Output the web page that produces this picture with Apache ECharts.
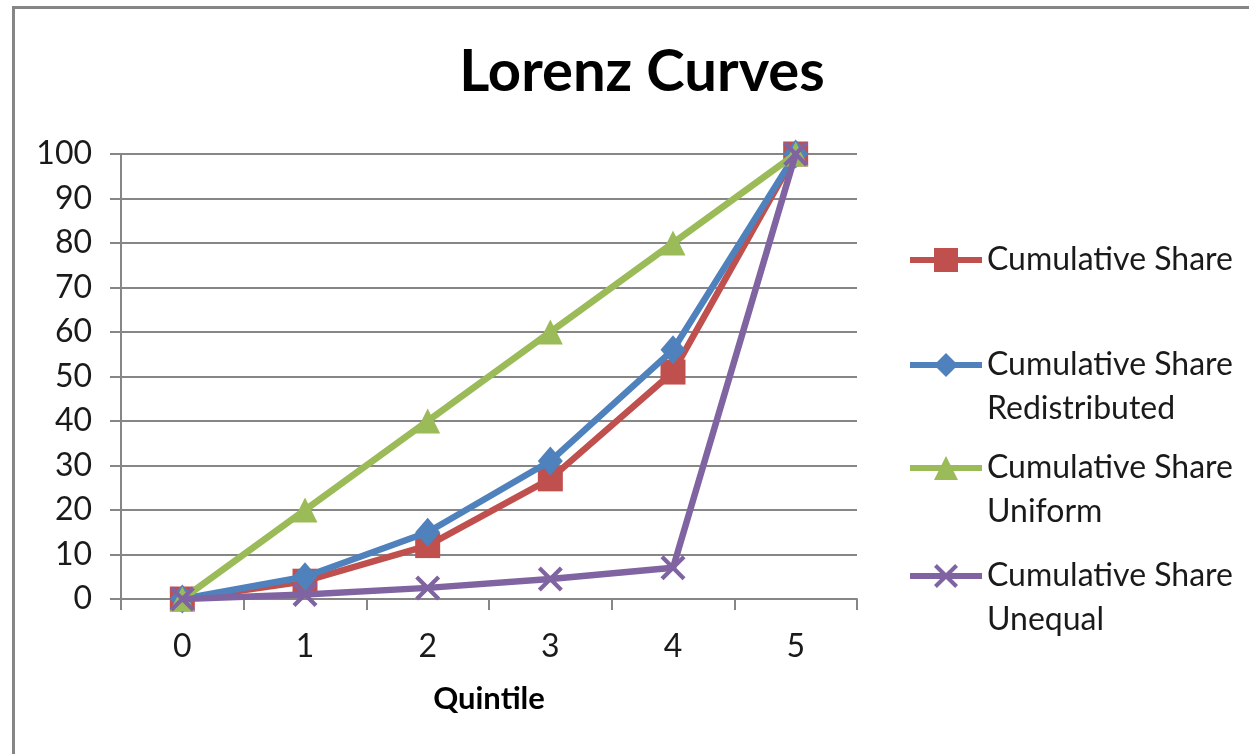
<!DOCTYPE html>
<html>
<head>
<meta charset="utf-8">
<script src="https://cdn.jsdelivr.net/npm/echarts@6/dist/echarts.min.js"></script>
<style>
html,body{margin:0;padding:0;background:#fff;}
#c{width:1249px;height:754px;}
</style>
</head>
<body>
<div id="c"></div>
<script>
const titleText = 'Lorenz Curves';
const xAxisName = 'Quintile';
const quintiles = ['0', '1', '2', '3', '4', '5'];
const yTicks = { min: 0, max: 100, interval: 10 };

const seriesNames = [
  'Cumulative Share',
  'Cumulative Share\nRedistributed',
  'Cumulative Share\nUniform',
  'Cumulative Share\nUnequal'
];
const cumulativeShare = [0, 4, 12, 27, 51, 100];
const cumulativeShareRedistributed = [0, 5, 15, 31, 56, 100];
const cumulativeShareUniform = [0, 20, 40, 60, 80, 100];
const cumulativeShareUnequal = [0, 1, 2.5, 4.5, 7, 100];

const colors = ['#C0504D', '#4F81BD', '#9BBB59', '#8064A2'];
const FONT = 'Lato';
const xPath = 'path://M0,1.2L1.2,0L5,3.8L8.8,0L10,1.2L6.2,5L10,8.8L8.8,10L5,6.2L1.2,10L0,8.8L3.8,5Z';

const chart = echarts.init(document.getElementById('c'), null, { renderer: 'canvas' });

function mkSeries(i, data, symbol, size) {
  return {
    name: seriesNames[i],
    type: 'line',
    data: data,
    symbol: symbol,
    symbolSize: size,
    showAllSymbol: true,
    lineStyle: { color: colors[i], width: 6.5 },
    itemStyle: { color: colors[i] },
    emphasis: { disabled: true },
    z: 2 + i
  };
}

function mkLegend(i, top, twoLine) {
  return {
    orient: 'vertical',
    left: 907,
    top: top,
    padding: 0,
    itemWidth: 72,
    itemHeight: 30,
    itemGap: 0,
    selectedMode: false,
    lineStyle: { width: 6 },
    data: [{ name: seriesNames[i] }],
    formatter: twoLine ? (n => ' \n' + n) : undefined,
    textStyle: {
      fontFamily: FONT,
      fontSize: 32,
      color: '#1a1a1a',
      lineHeight: 44
    }
  };
}

chart.setOption({
  animation: false,
  backgroundColor: '#ffffff',
  color: colors,
  title: {
    text: titleText,
    left: 637,
    textAlign: 'center',
    top: 38,
    textStyle: { fontFamily: FONT, fontSize: 58, fontWeight: 'bold', color: '#000' }
  },
  graphic: [{
    type: 'rect',
    shape: { x: 13.5, y: 7.5, width: 1300, height: 800 },
    style: { fill: 'none', stroke: '#868686', lineWidth: 3 },
    silent: true,
    z: -10
  }],
  legend: [
    mkLegend(0, 238, false),
    mkLegend(1, 299, true),
    mkLegend(2, 402, true),
    mkLegend(3, 510, true)
  ],
  grid: { left: 121, right: 392, top: 154, bottom: 155, containLabel: false },
  xAxis: {
    type: 'category',
    data: quintiles,
    boundaryGap: true,
    name: xAxisName,
    nameLocation: 'middle',
    nameGap: 84,
    nameTextStyle: { fontFamily: FONT, fontSize: 31, fontWeight: 'bold', color: '#000' },
    axisLine: { show: true, lineStyle: { color: '#868686', width: 2 } },
    axisTick: { show: true, length: 11, lineStyle: { color: '#868686', width: 2 } },
    axisLabel: { fontFamily: FONT, fontSize: 32, color: '#1a1a1a', margin: 32 },
    splitLine: { show: false }
  },
  yAxis: {
    type: 'value',
    min: yTicks.min,
    max: yTicks.max,
    interval: yTicks.interval,
    axisLine: { show: true, lineStyle: { color: '#868686', width: 2 } },
    axisTick: { show: true, length: 11, lineStyle: { color: '#868686', width: 2 } },
    axisLabel: { fontFamily: FONT, fontSize: 32, color: '#1a1a1a', margin: 29 },
    splitLine: { show: true, lineStyle: { color: '#868686', width: 2 } }
  },
  series: [
    mkSeries(0, cumulativeShare, 'rect', 25),
    mkSeries(1, cumulativeShareRedistributed, 'diamond', [25, 29]),
    mkSeries(2, cumulativeShareUniform, 'triangle', 25),
    mkSeries(3, cumulativeShareUnequal, xPath, 25)
  ]
});
</script>
</body>
</html>
